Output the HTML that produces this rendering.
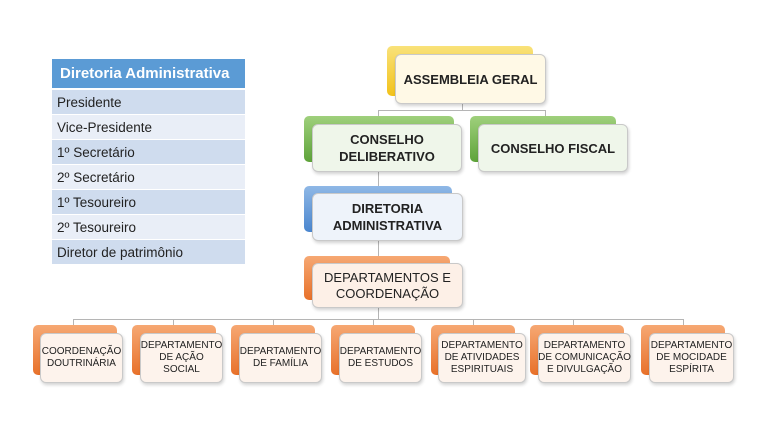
<!DOCTYPE html>
<html><head><meta charset="utf-8"><style>
body{margin:0;width:765px;height:429px;background:#fff;position:relative;overflow:hidden;font-family:"Liberation Sans",sans-serif}
.b{position:absolute;border-radius:5px}
.f{position:absolute;border-radius:6px;border:1px solid #c9c9c9;box-shadow:1px 2px 3px rgba(0,0,0,.18);display:flex;align-items:center;justify-content:center;text-align:center;color:#222;box-sizing:border-box;white-space:nowrap}
.l{position:absolute;background:#b5b5b5}
.y{background:linear-gradient(#f9e27a,#f2c21a)}
.g{background:linear-gradient(#9fd07c,#5ea33a)}
.bl{background:linear-gradient(#8fb8e6,#4a86cf)}
.o{background:linear-gradient(#f6a873,#e8712a)}
.bold{font-weight:bold;font-size:13px;line-height:17px}
.sm{font-size:10px;line-height:12px}
table{position:absolute;left:52px;top:59px;width:193px;border-collapse:collapse;font-size:13.5px;color:#222}
td{height:24px;padding:0 5px;border-bottom:1px solid #fff}
th{height:29px;background:#5b9bd5;color:#fff;font-size:15px;text-align:left;padding:0 8px;border-bottom:2px solid #fff;white-space:nowrap}
</style></head><body>
<table>
<tr><th>Diretoria Administrativa</th></tr>
<tr><td style="background:#cfdcee">Presidente</td></tr>
<tr><td style="background:#e9eef7">Vice-Presidente</td></tr>
<tr><td style="background:#cfdcee">1º Secretário</td></tr>
<tr><td style="background:#e9eef7">2º Secretário</td></tr>
<tr><td style="background:#cfdcee">1º Tesoureiro</td></tr>
<tr><td style="background:#e9eef7">2º Tesoureiro</td></tr>
<tr><td style="background:#cfdcee">Diretor de patrimônio</td></tr>
</table>

<div class="l" style="left:462px;top:103px;width:1px;height:7px"></div>
<div class="l" style="left:378px;top:110px;width:168px;height:1px"></div>
<div class="l" style="left:378px;top:110px;width:1px;height:8px"></div>
<div class="l" style="left:545px;top:110px;width:1px;height:8px"></div>
<div class="l" style="left:378px;top:172px;width:1px;height:16px"></div>
<div class="l" style="left:378px;top:240px;width:1px;height:18px"></div>
<div class="l" style="left:378px;top:307px;width:1px;height:12px"></div>
<div class="l" style="left:73px;top:319px;width:611px;height:1px"></div>
<div class="l" style="left:73px;top:319px;width:1px;height:7px"></div>
<div class="l" style="left:173px;top:319px;width:1px;height:7px"></div>
<div class="l" style="left:273px;top:319px;width:1px;height:7px"></div>
<div class="l" style="left:373px;top:319px;width:1px;height:7px"></div>
<div class="l" style="left:473px;top:319px;width:1px;height:7px"></div>
<div class="l" style="left:573px;top:319px;width:1px;height:7px"></div>
<div class="l" style="left:683px;top:319px;width:1px;height:7px"></div>

<div class="b y" style="left:387px;top:46px;width:146px;height:50px"></div>
<div class="f bold" style="left:395px;top:54px;width:151px;height:50px;background:#fff9e6">ASSEMBLEIA GERAL</div>

<div class="b g" style="left:304px;top:116px;width:150px;height:46px"></div>
<div class="f bold" style="left:312px;top:124px;width:150px;height:48px;background:#eff6ea">CONSELHO<br>DELIBERATIVO</div>

<div class="b g" style="left:470px;top:116px;width:146px;height:46px"></div>
<div class="f bold" style="left:478px;top:124px;width:150px;height:48px;background:#eff6ea">CONSELHO FISCAL</div>

<div class="b bl" style="left:304px;top:186px;width:148px;height:46px"></div>
<div class="f bold" style="left:312px;top:193px;width:151px;height:48px;background:#eef3fa">DIRETORIA<br>ADMINISTRATIVA</div>

<div class="b o" style="left:304px;top:256px;width:146px;height:44px"></div>
<div class="f" style="left:312px;top:263px;width:151px;height:45px;background:#fdf0e7;font-size:13px;line-height:16px">DEPARTAMENTOS E<br>COORDENAÇÃO</div>

<div class="b o" style="left:33px;top:325px;width:84px;height:50px"></div>
<div class="f sm" style="left:40px;top:333px;width:83px;height:50px;background:#fdf3ec">COORDENAÇÃO<br>DOUTRINÁRIA</div>
<div class="b o" style="left:132px;top:325px;width:84px;height:50px"></div>
<div class="f sm" style="left:140px;top:333px;width:83px;height:50px;background:#fdf3ec">DEPARTAMENTO<br>DE AÇÃO<br>SOCIAL</div>
<div class="b o" style="left:231px;top:325px;width:84px;height:50px"></div>
<div class="f sm" style="left:239px;top:333px;width:83px;height:50px;background:#fdf3ec">DEPARTAMENTO<br>DE FAMÍLIA</div>
<div class="b o" style="left:331px;top:325px;width:84px;height:50px"></div>
<div class="f sm" style="left:339px;top:333px;width:83px;height:50px;background:#fdf3ec">DEPARTAMENTO<br>DE ESTUDOS</div>
<div class="b o" style="left:431px;top:325px;width:84px;height:50px"></div>
<div class="f sm" style="left:438px;top:333px;width:88px;height:50px;background:#fdf3ec">DEPARTAMENTO<br>DE ATIVIDADES<br>ESPIRITUAIS</div>
<div class="b o" style="left:530px;top:325px;width:94px;height:50px"></div>
<div class="f sm" style="left:538px;top:333px;width:93px;height:50px;background:#fdf3ec">DEPARTAMENTO<br>DE COMUNICAÇÃO<br>E DIVULGAÇÃO</div>
<div class="b o" style="left:641px;top:325px;width:84px;height:50px"></div>
<div class="f sm" style="left:649px;top:333px;width:85px;height:50px;background:#fdf3ec">DEPARTAMENTO<br>DE MOCIDADE<br>ESPÍRITA</div>
</body></html>
